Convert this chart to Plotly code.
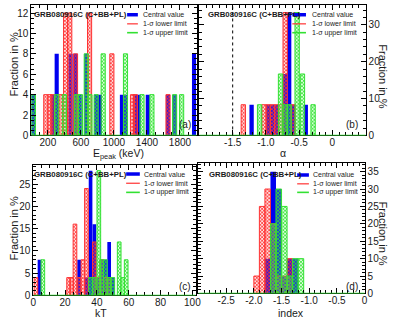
import plotly.graph_objects as go

W, H = 397, 324

# ---- data: fraction in % per bin (bin centre, value) ----
# (a) E_peak in keV
epeak_bin = 50
epeak_central_x = [25, 260, 307, 475, 535, 585, 665, 785, 830, 1097, 1140, 1255, 1300, 1410, 1655, 1735, 1970]
epeak_central_y = [4, 4, 8, 8, 8, 4, 8, 4, 4, 4, 4, 4, 4, 4, 4, 4, 8]
epeak_lower_x = [175, 225, 260, 360, 415, 465, 535, 705, 975, 1225, 1260, 1655]
epeak_lower_y = [4, 4, 4, 4, 12, 12, 8, 12, 8, 4, 4, 4]
epeak_upper_x = [25, 307, 400, 545, 595, 665, 710, 785, 870, 1140, 1340, 1460, 1735, 1820]
epeak_upper_y = [4, 4, 4, 4, 4, 8, 4, 4, 8, 8, 4, 4, 4, 4]

# (b) alpha
alpha_bin = 0.065
alpha_central_x = [-1.215, -0.965, -0.90, -0.835, -0.71, -0.65, -0.59, -0.40]
alpha_central_y = [8.33, 8.33, 8.33, 8.33, 16.67, 33.33, 8.33, 8.33]
alpha_lower_x = [-1.34, -1.03, -0.965, -0.90, -0.835, -0.78, -0.71, -0.59]
alpha_lower_y = [8.33, 8.33, 8.33, 8.33, 8.33, 8.33, 33.33, 8.33]
alpha_upper_x = [-1.095, -0.78, -0.71, -0.65, -0.53, -0.45, -0.29]
alpha_upper_y = [8.33, 16.67, 8.33, 8.33, 33.33, 16.67, 8.33]
alpha_ref = -1.5

# (c) kT
kt_bin = 2.3
kt_central_x = [3.9, 28.8, 33.6, 36.0, 38.4, 40.7, 43.0, 45.3, 47.7, 50.0]
kt_central_y = [8, 8, 4, 28, 16, 4, 8, 8, 12, 4]
kt_lower_x = [1.65, 22.2, 24.1, 26.2, 28.8, 31.2, 33.4, 38.4, 40.7, 43.0, 45.3, 47.7]
kt_lower_y = [4, 4, 4, 16, 4, 8, 24, 12, 4, 8, 4, 4]
kt_upper_x = [6.0, 36.0, 38.4, 41.2, 43.0, 45.3, 47.7, 50.0, 54.0, 56.2, 58.4]
kt_upper_y = [8, 4, 4, 28, 8, 8, 4, 4, 12, 4, 8]

# (d) power-law index
index_bin = 0.1
index_central_x = [-1.75, -1.65, -1.55, -1.45, -1.35, -1.25]
index_central_y = [10, 35, 30, 5, 10, 10]
index_lower_x = [-1.95, -1.85, -1.75, -1.65, -1.55, -1.45, -1.35]
index_lower_y = [5, 25, 30, 20, 5, 5, 10]
index_upper_x = [-1.65, -1.55, -1.45, -1.35, -1.25, -1.15]
index_upper_y = [20, 30, 25, 5, 10, 10]

BLUE = "rgb(0,0,240)"
RED = "rgb(255,50,50)"
GREEN = "rgb(50,225,50)"
TXT = "#1a1a1a"
FONT = "Arial"


def px(x):
    return x / W


def py(y):
    return 1 - y / H


fig = go.Figure()

panels = [
    ("", epeak_bin, (epeak_central_x, epeak_central_y), (epeak_lower_x, epeak_lower_y), (epeak_upper_x, epeak_upper_y)),
    ("2", alpha_bin, (alpha_central_x, alpha_central_y), (alpha_lower_x, alpha_lower_y), (alpha_upper_x, alpha_upper_y)),
    ("3", kt_bin, (kt_central_x, kt_central_y), (kt_lower_x, kt_lower_y), (kt_upper_x, kt_upper_y)),
    ("4", index_bin, (index_central_x, index_central_y), (index_lower_x, index_lower_y), (index_upper_x, index_upper_y)),
]
hatch_bg = {RED: "rgba(255,110,110,0.22)", GREEN: "rgba(110,255,110,0.25)"}
for sfx, width, cen, low, upp in panels:
    xa, ya = "x" + sfx, "y" + sfx
    fig.add_trace(go.Bar(x=cen[0], y=cen[1], width=width, xaxis=xa, yaxis=ya, showlegend=False,
                         marker=dict(color=BLUE, line=dict(width=0))))
    for (xs, ys), col in ((low, RED), (upp, GREEN)):
        fig.add_trace(go.Bar(x=xs, y=ys, width=width, xaxis=xa, yaxis=ya, showlegend=False,
                             marker=dict(color=col, line=dict(color=col, width=1),
                                         pattern=dict(shape="x", size=2.5, solidity=0.5, fillmode="replace",
                                                      bgcolor=hatch_bg[col]))))
    # histogram baseline drawn in green
    fig.add_shape(type="line", xref=xa + " domain", yref=ya, x0=0, x1=1, y0=0, y1=0,
                  line=dict(color=GREEN, width=1.5), layer="above")

fig.add_shape(type="line", xref="x2", yref="y2 domain", x0=alpha_ref, x1=alpha_ref, y0=0, y1=1,
              line=dict(color="black", width=1, dash="dot"))

ax = dict(showline=True, linecolor="black", linewidth=1, mirror="allticks", ticks="inside", ticklen=5,
          tickcolor="black", showgrid=False, zeroline=False,
          tickfont=dict(family=FONT, size=10, color=TXT))
xax = dict(ax, ticklabelstandoff=-2)


def minor(d):
    return dict(ticks="inside", ticklen=3, tickcolor="black", dtick=d)


fig.update_layout(
    width=W, height=H, margin=dict(l=0, r=0, t=0, b=0),
    plot_bgcolor="white", paper_bgcolor="white", barmode="overlay",
    xaxis=dict(xax, domain=[px(29), px(198)], range=[0, 2000], anchor="y",
               tickvals=[200, 600, 1000, 1400, 1800], minor=minor(100)),
    yaxis=dict(ax, domain=[py(138), py(5)], range=[0, 12.8], anchor="x", dtick=2, minor=minor(0.5)),
    xaxis2=dict(xax, domain=[px(201), px(371)], range=[-2, 0.5], anchor="y2",
                tickvals=[-1.5, -1.0, -0.5, 0], ticktext=["-1.5", "-1.0", "-0.5", "0"], minor=minor(0.1)),
    yaxis2=dict(ax, domain=[py(138), py(5)], range=[0, 35.4], anchor="x2", side="right",
                dtick=10, minor=minor(2)),
    xaxis3=dict(xax, domain=[px(31), px(197)], range=[0, 102], anchor="y3",
                tickvals=[0, 20, 40, 60, 80, 100], minor=minor(5)),
    yaxis3=dict(ax, domain=[py(301), py(168)], range=[0, 29.3], anchor="x3", dtick=5, minor=minor(1)),
    xaxis4=dict(xax, domain=[px(200), px(370)], range=[-3, 0], anchor="y4",
                tickvals=[-2.5, -2.0, -1.5, -1.0, -0.5, 0],
                ticktext=["-2.5", "-2.0", "-1.5", "-1.0", "-0.5", "0"], minor=minor(0.1)),
    yaxis4=dict(ax, domain=[py(299), py(166)], range=[0, 37.5], anchor="x4", side="right",
                dtick=5, minor=minor(1)),
)

ann = []


def text(x, y, s, size=11, angle=0, xanchor="center", bold=False):
    ann.append(dict(x=px(x), y=py(y), xref="paper", yref="paper", text=f"<b>{s}</b>" if bold else s,
                    showarrow=False, textangle=angle, xanchor=xanchor, yanchor="middle",
                    font=dict(family=FONT, size=size, color=TXT)))


# axis titles
text(118, 157, "E<sub>peak</sub> (keV)", size=10.5)
text(287, 156, "α", size=10.5)
text(100, 318.5, "kT", size=10.5)
text(295, 318.5, "index", size=10.5)
text(11, 66, "Fraction in %", angle=-90)
text(11, 233, "Fraction in %", angle=-90)
text(389, 78, "Fraction in %", angle=90)
text(389, 238, "Fraction in %", angle=90)

# panel labels
for lab, (x, y) in zip(["(a)", "(b)", "(c)", "(d)"], [(186, 127), (357, 127), (186, 292), (357, 292)]):
    text(x, y, lab, size=10)

# per-panel legend: title position, line x0/x1, text x, row ys
legends = [
    (30, 127, 138, 141, [15, 24.3, 33.3]),
    (208, 296, 310, 314, [15, 24.3, 33.3]),
    (30, 126, 140, 142, [177.3, 186.7, 196]),
    (209, 301, 313, 315, [178.3, 187.3, 196]),
]
entries = [("Central value", BLUE, 3.5), ("1-σ lower limit", RED, 1.2), ("1-σ upper limit", GREEN, 1.6)]
for tx, lx0, lx1, ltx, ys in legends:
    text(tx, ys[0], "GRB080916C (C+BB+PL)", size=7.8, xanchor="left", bold=True)
    for (name, col, lw), y in zip(entries, ys):
        fig.add_shape(type="line", xref="paper", yref="paper", x0=px(lx0), x1=px(lx1), y0=py(y), y1=py(y),
                      line=dict(color=col, width=lw))
        text(ltx, y, name, size=7, xanchor="left")

fig.update_layout(annotations=ann)
# drop the page's default body margin so the 397x324 figure fills the window exactly
fig.write_html("out.html", config={"displayModeBar": False},
               post_script="document.body.style.margin='0';")
